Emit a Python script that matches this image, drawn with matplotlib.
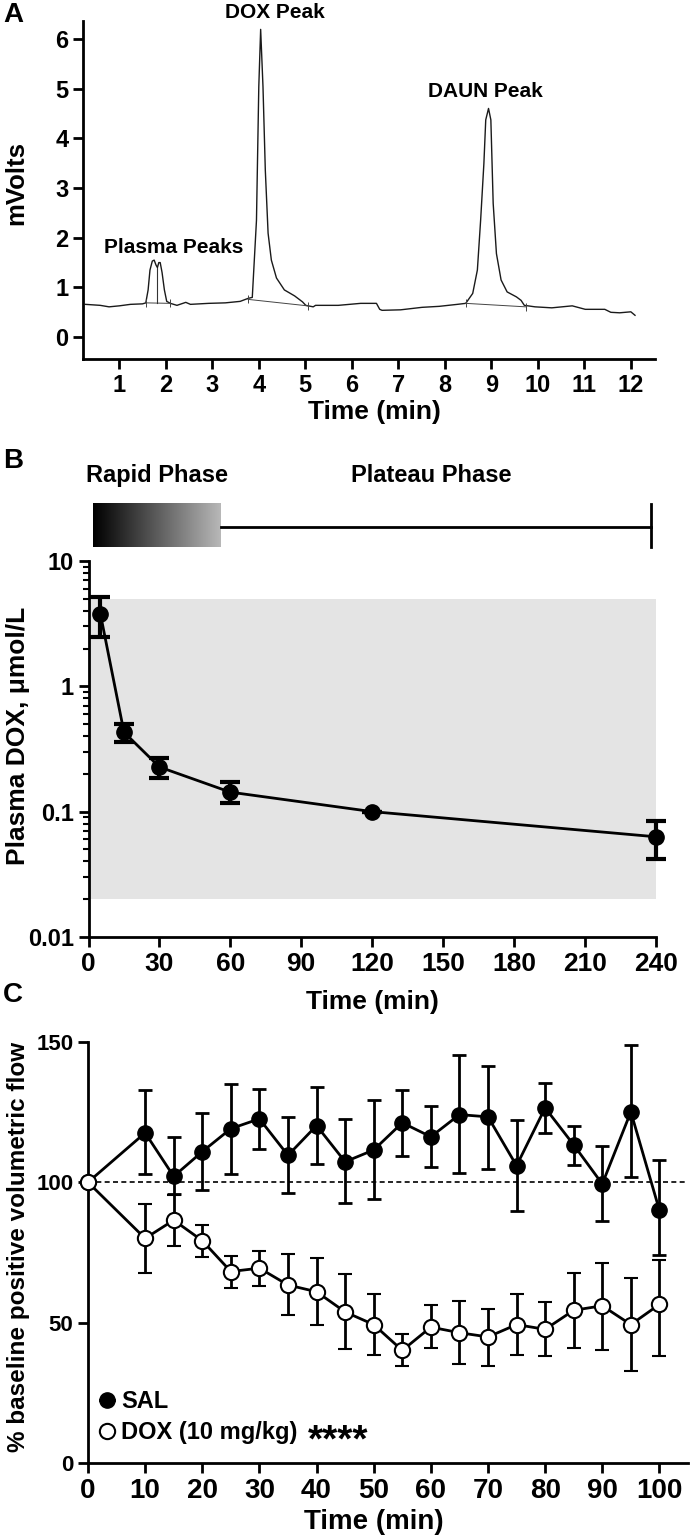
import matplotlib

matplotlib.use("Agg")
import matplotlib.pyplot as plt
import numpy as np
from matplotlib.ticker import FixedLocator, FuncFormatter, LogLocator, NullFormatter

# --- panel A: HPLC trace (time in min, signal in mV)
chrom_time = [0.27, 0.59, 0.78, 1.00, 1.24, 1.50, 1.57, 1.62, 1.66, 1.71, 1.75, 1.79,
              1.82, 1.85, 1.88, 1.92, 1.97, 2.02, 2.10, 2.24, 2.43, 2.53, 2.92, 3.28,
              3.60, 3.77, 3.86, 3.95, 4.00, 4.04, 4.09, 4.14, 4.20, 4.27, 4.38, 4.55,
              4.77, 4.94, 5.01, 5.17, 5.22, 5.71, 6.19, 6.53, 6.60, 6.65, 7.05, 7.51,
              7.88, 8.27, 8.45, 8.60, 8.70, 8.77, 8.84, 8.88, 8.94, 8.99, 9.04, 9.11,
              9.21, 9.34, 9.54, 9.64, 9.71, 9.94, 10.30, 10.74, 11.02, 11.44, 11.57,
              11.76, 12.00, 12.09]
chrom_mv = [0.66, 0.64, 0.61, 0.63, 0.66, 0.67, 0.69, 0.95, 1.35, 1.53, 1.55, 1.45,
            1.40, 1.50, 1.50, 1.30, 0.95, 0.72, 0.68, 0.64, 0.70, 0.66, 0.68, 0.69,
            0.72, 0.78, 0.80, 2.35, 5.04, 6.19, 5.04, 3.36, 2.09, 1.55, 1.19, 0.95,
            0.83, 0.71, 0.64, 0.61, 0.64, 0.64, 0.68, 0.68, 0.56, 0.54, 0.55, 0.60,
            0.62, 0.66, 0.68, 0.88, 1.35, 2.35, 3.49, 4.37, 4.60, 4.37, 2.69, 1.68,
            1.15, 0.91, 0.81, 0.74, 0.64, 0.61, 0.59, 0.63, 0.56, 0.56, 0.50,
            0.49, 0.51, 0.44]
# integration baselines under the peaks
base_t0 = [1.57, 3.77, 8.45]
base_t1 = [2.10, 5.05, 9.74]
base_mv0 = [0.69, 0.76, 0.68]
base_mv1 = [0.68, 0.63, 0.61]
split_t, split_mv = 1.82, 1.40

# --- panel B: plasma DOX (umol/L)
pk_time = [5, 15, 30, 60, 120, 240]
pk_dox = [3.8, 0.43, 0.227, 0.143, 0.1, 0.063]
pk_low = [2.47, 0.36, 0.185, 0.117, 0.1, 0.042]
pk_high = [5.16, 0.50, 0.268, 0.172, 0.1, 0.084]
quant_range = (0.02, 5.0)
rapid_phase = (2, 56)
plateau_end = 238

# --- panel C: % baseline positive volumetric flow
flow_time = [0, 10, 15, 20, 25, 30, 35, 40, 45, 50, 55, 60, 65, 70, 75, 80, 85, 90, 95, 100]
sal_mean = [100, 117.6, 102.1, 110.9, 119.1, 122.6, 109.6, 120.2, 107.3, 111.5,
            121.2, 116.2, 124.1, 123.3, 105.9, 126.5, 113.3, 99.4, 125.1, 90.0]
sal_high = [100, 132.7, 116.2, 124.7, 135.1, 133.3, 123.2, 133.8, 122.6, 129.4,
            132.7, 127.3, 145.3, 141.4, 122.1, 135.3, 120.0, 112.9, 148.8, 107.9]
sal_low = [100, 102.8, 95.9, 97.3, 102.8, 112.0, 96.2, 106.5, 92.7, 94.0,
           109.3, 105.5, 103.3, 104.9, 89.8, 117.6, 106.2, 86.2, 101.8, 74.2]
dox_mean = [100, 80.0, 86.5, 79.2, 68.2, 69.4, 63.4, 61.0, 53.8, 49.3,
            40.1, 48.4, 46.4, 44.9, 49.3, 47.6, 54.4, 56.0, 49.3, 56.5]
dox_high = [100, 92.1, 95.6, 84.9, 73.9, 75.6, 74.6, 73.0, 67.3, 60.2,
            46.1, 56.2, 57.7, 54.8, 60.2, 57.2, 67.8, 71.4, 66.0, 72.4]
dox_low = [100, 67.6, 77.3, 73.5, 62.4, 63.2, 52.6, 49.0, 40.7, 38.5,
           34.4, 40.9, 35.3, 34.7, 38.5, 38.0, 41.1, 40.3, 32.9, 38.0]

plt.rcParams["font.family"] = ["Liberation Sans Narrow", "Liberation Sans", "DejaVu Sans"]
plt.rcParams["font.weight"] = "bold"
plt.rcParams["axes.labelweight"] = "bold"
LABEL_FONT = ["Liberation Sans", "DejaVu Sans"]


def style_axes(ax, tick_size):
    for side in ("top", "right"):
        ax.spines[side].set_visible(False)
    for side in ("left", "bottom"):
        ax.spines[side].set_linewidth(2)
    ax.tick_params(width=2, length=7, labelsize=tick_size, direction="out")


fig = plt.figure(figsize=(6.9, 15.39), dpi=100)

# ---------------- A
axA = fig.add_axes([0.1203, 0.7667, 0.829, 0.2197])
axA.plot(chrom_time, chrom_mv, color="#1a1a1a", lw=1.0)
for t0, t1, m0, m1 in zip(base_t0, base_t1, base_mv0, base_mv1):
    axA.plot([t0, t1], [m0, m1], color="#444444", lw=0.7)
    axA.plot([t0, t1], [m0, m1], ls="none", marker="|", ms=6, mew=0.7, color="#444444")
axA.plot([split_t, split_t], [base_mv0[0], split_mv], color="#333333", lw=0.8)
axA.set_xlim(0.22, 12.52)
axA.set_ylim(-0.44, 6.36)
axA.set_xticks(range(1, 13))
axA.set_yticks(range(0, 7))
style_axes(axA, 17)
axA.set_ylabel("mVolts", fontsize=18.5, family=LABEL_FONT)
axA.yaxis.set_label_coords(-0.096, 0.52)
axA.set_xlabel("Time (min)", fontsize=19)
axA.xaxis.set_label_coords(0.51, -0.122)
axA.text(4.35, 6.52, "DOX Peak", ha="center", va="center", fontsize=15, clip_on=False)
axA.text(8.87, 4.95, "DAUN Peak", ha="center", va="center", fontsize=15)
axA.text(2.17, 1.81, "Plasma Peaks", ha="center", va="center", fontsize=15)

# ---------------- B
posB = [0.1283, 0.3912, 0.822, 0.2443]
axB = fig.add_axes(posB)
axB.set_yscale("log")
axB.axhspan(quant_range[0], quant_range[1], xmin=0, xmax=1, color="#e4e4e4", lw=0, zorder=0)
pk_err = [np.array(pk_dox) - np.array(pk_low), np.array(pk_high) - np.array(pk_dox)]
axB.errorbar(pk_time, pk_dox, yerr=pk_err, color="black", lw=2, elinewidth=3,
             capsize=7, capthick=3, marker="o", ms=11, clip_on=False, zorder=3)
axB.set_xlim(0, 240)
axB.set_ylim(0.01, 10)
axB.set_xticks(range(0, 241, 30))
axB.yaxis.set_major_locator(FixedLocator([0.01, 0.1, 1, 10]))
axB.yaxis.set_major_formatter(FuncFormatter(lambda v, p: f"{v:g}"))
axB.yaxis.set_minor_locator(LogLocator(base=10, subs=np.arange(2, 10)))
axB.yaxis.set_minor_formatter(NullFormatter())
style_axes(axB, 17)
axB.tick_params(axis="x", labelsize=19)
axB.tick_params(axis="y", which="minor", width=1.5, length=4)
axB.set_ylabel("Plasma DOX, μmol/L", fontsize=19, family=LABEL_FONT)
axB.yaxis.set_label_coords(-0.104, 0.535)
axB.set_xlabel("Time (min)", fontsize=19)
axB.xaxis.set_label_coords(0.5, -0.142)

# phase bar above B
axP = fig.add_axes([posB[0], 0.6426, posB[2], 0.0325])
axP.set_xlim(0, 240)
axP.set_ylim(0, 1)
axP.axis("off")
gradient = np.linspace(0, 0.72, 256).reshape(1, -1)
axP.imshow(gradient, cmap="gray", vmin=0, vmax=1, aspect="auto",
           extent=[rapid_phase[0], rapid_phase[1], 0.06, 0.92])
axP.plot([rapid_phase[1], plateau_end], [0.46, 0.46], color="black", lw=2)
axP.plot([plateau_end, plateau_end], [0.06, 0.92], color="black", lw=2)
axP.text(29, 1.5, "Rapid Phase", ha="center", va="center", fontsize=17)
axP.text(145, 1.5, "Plateau Phase", ha="center", va="center", fontsize=17)

# ---------------- C
axC = fig.add_axes([0.1275, 0.0494, 0.8696, 0.2736])
axC.axhline(100, color="black", lw=1.2, ls=(0, (3, 2)), zorder=1)
sal_err = [np.array(sal_mean) - np.array(sal_low), np.array(sal_high) - np.array(sal_mean)]
dox_err = [np.array(dox_mean) - np.array(dox_low), np.array(dox_high) - np.array(dox_mean)]
axC.errorbar(flow_time, sal_mean, yerr=sal_err, color="black", lw=2, elinewidth=2,
             capsize=5, capthick=2, marker="o", ms=11, mfc="black", clip_on=False,
             label="SAL", zorder=3)
axC.errorbar(flow_time, dox_mean, yerr=dox_err, color="black", lw=2, elinewidth=2,
             capsize=5, capthick=2, marker="o", ms=11, mfc="white", mew=1.5,
             clip_on=False, label="DOX (10 mg/kg)", zorder=4)
axC.set_xlim(0, 105)
axC.set_ylim(0, 150)
axC.set_xticks(range(0, 101, 10))
axC.set_yticks([0, 50, 100, 150])
style_axes(axC, 16)
axC.tick_params(axis="x", labelsize=20)
axC.set_ylabel("% baseline positive volumetric flow", fontsize=17.5, family=LABEL_FONT)
axC.yaxis.set_label_coords(-0.097, 0.513)
axC.set_xlabel("Time (min)", fontsize=20)
axC.xaxis.set_label_coords(0.477, -0.11)
handles, labels = axC.get_legend_handles_labels()
handles = [h[0] for h in handles]
axC.legend(handles, labels, loc="lower left", bbox_to_anchor=(-0.012, 0.0), frameon=False,
           fontsize=17, handlelength=0.6, handletextpad=0.3, labelspacing=0.35,
           borderaxespad=0.4)
axC.text(38.5, 4.2, "****", ha="left", va="baseline", fontsize=28)

# panel letters
for letter, ypos in (("A", 0.990), ("B", 0.7005), ("C", 0.3535)):
    fig.text(0.019, ypos, letter, fontsize=20, fontweight="bold", family=LABEL_FONT,
             ha="center", va="center")

fig.savefig("out.png", dpi=100)
